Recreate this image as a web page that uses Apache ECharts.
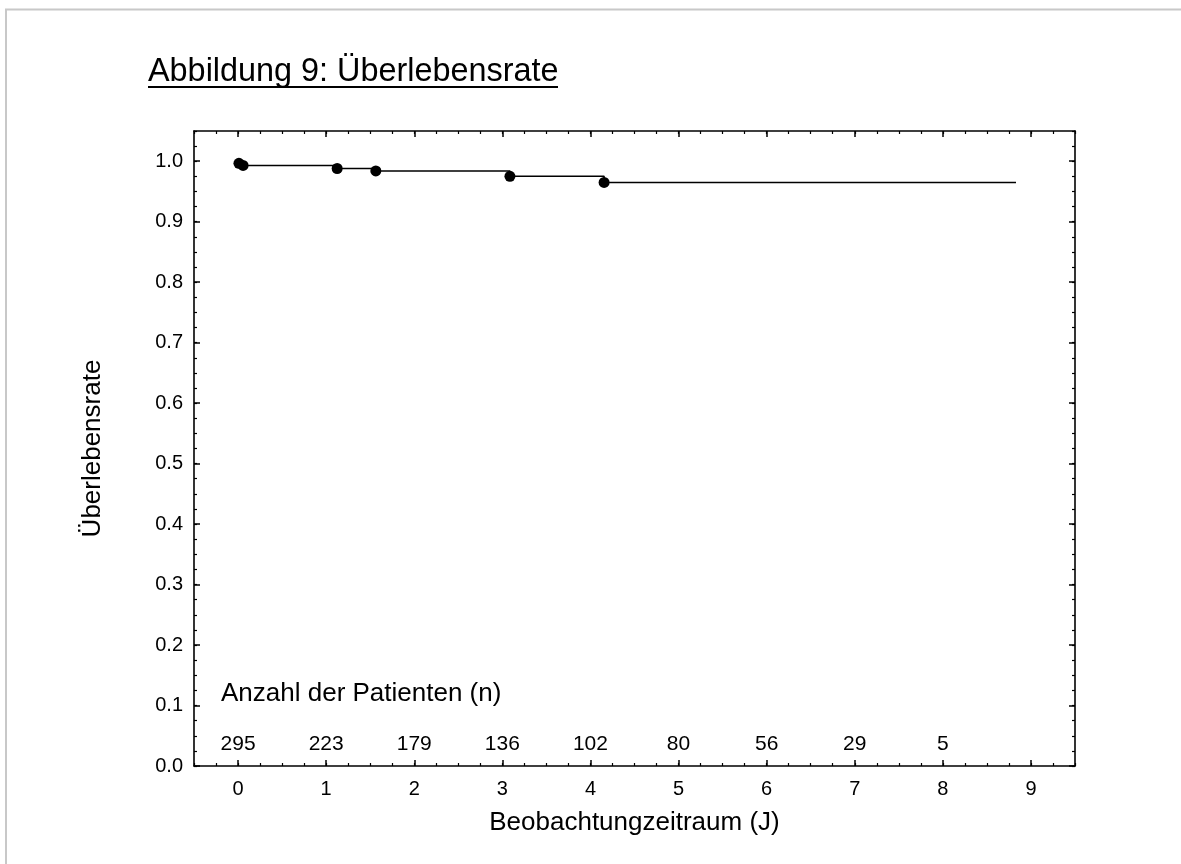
<!DOCTYPE html>
<html><head><meta charset="utf-8">
<script src="https://cdn.jsdelivr.net/npm/echarts@6/dist/echarts.min.js"></script>
<style>html,body{margin:0;padding:0;background:#fff}#c{width:1181px;height:864px}</style>
</head><body><div id="c"></div>
<script>
const xTicks = [0, 1, 2, 3, 4, 5, 6, 7, 8, 9];
const yTicks = [0, 0.1, 0.2, 0.3, 0.4, 0.5, 0.6, 0.7, 0.8, 0.9, 1.0];
const eventTimes = [0.01, 0.057, 1.125, 1.564, 3.086, 4.155];
const survival = [0.9965, 0.993, 0.988, 0.984, 0.975, 0.965];
const lastFollowUp = 8.83;
const atRiskTimes = [0, 1, 2, 3, 4, 5, 6, 7, 8];
const atRiskCounts = [295, 223, 179, 136, 102, 80, 56, 29, 5];
const titleText = 'Abbildung 9: Überlebensrate';
const xName = 'Beobachtungzeitraum (J)';
const yName = 'Überlebensrate';
const atRiskTitle = 'Anzahl der Patienten (n)';

const FF = '"Liberation Sans", Arial, Helvetica, sans-serif';
const BLACK = '#000';
const chart = echarts.init(document.getElementById('c'), null, {renderer: 'canvas'});

const curve = eventTimes.map((t, i) => [t, survival[i]]);
curve.push([lastFollowUp, survival[survival.length - 1]]);
const dots = eventTimes.map((t, i) => [t, survival[i]]);
const atRisk = atRiskTimes.map((t, i) => [t, 0.036, atRiskCounts[i]]);

function majorX(pos, labels) {
  return {
    type: 'value', position: pos, min: -0.5, max: 9.5,
    axisLine: {show: true, onZero: false, lineStyle: {color: BLACK, width: 1.6}},
    axisTick: {show: true, inside: true, length: 6, customValues: xTicks, lineStyle: {color: BLACK, width: 1.5}},
    axisLabel: labels ? {show: true, customValues: xTicks, fontSize: 20, color: BLACK, margin: 13, fontFamily: FF} : {show: false},
    splitLine: {show: false},
    name: labels ? xName : '', nameLocation: 'middle', nameGap: 44,
    nameTextStyle: {fontSize: 26, color: BLACK, fontFamily: FF}
  };
}
function minorX(pos) {
  return {
    type: 'value', position: pos, min: -0.5, max: 9.5, interval: 0.25,
    axisLine: {show: false, onZero: false},
    axisTick: {show: true, inside: true, length: 3, lineStyle: {color: BLACK, width: 1.2}},
    axisLabel: {show: false}, splitLine: {show: false}
  };
}
function majorY(pos, labels) {
  return {
    type: 'value', position: pos, min: 0, max: 1.05,
    axisLine: {show: true, onZero: false, lineStyle: {color: BLACK, width: 1.6}},
    axisTick: {show: true, inside: true, length: 6, customValues: yTicks, lineStyle: {color: BLACK, width: 1.5}},
    axisLabel: labels ? {show: true, customValues: yTicks, formatter: v => Number(v).toFixed(1), fontSize: 20, color: BLACK, margin: 11, fontFamily: FF} : {show: false},
    splitLine: {show: false},
    name: labels ? yName : '', nameLocation: 'middle', nameGap: 88, nameRotate: 90,
    nameTextStyle: {fontSize: 26, color: BLACK, fontFamily: FF}
  };
}
function minorY(pos) {
  return {
    type: 'value', position: pos, min: 0, max: 1.05, interval: 0.025,
    axisLine: {show: false, onZero: false},
    axisTick: {show: true, inside: true, length: 3, lineStyle: {color: BLACK, width: 1.2}},
    axisLabel: {show: false}, splitLine: {show: false}
  };
}

chart.setOption({
  animation: false,
  backgroundColor: '#fff',
  textStyle: {fontFamily: FF},
  grid: {left: 194, top: 131, right: 106, bottom: 98, containLabel: false},
  xAxis: [majorX('bottom', true), minorX('bottom'), majorX('top', false), minorX('top')],
  yAxis: [majorY('left', true), minorY('left'), majorY('right', false), minorY('right')],
  series: [
    {
      type: 'line', step: 'end', data: curve, xAxisIndex: 0, yAxisIndex: 0,
      showSymbol: false, symbol: 'none',
      lineStyle: {color: BLACK, width: 1.5}, silent: true
    },
    {
      type: 'scatter', data: dots, xAxisIndex: 0, yAxisIndex: 0,
      symbol: 'circle', symbolSize: 11, itemStyle: {color: BLACK, opacity: 1}, silent: true
    },
    {
      type: 'scatter', data: atRisk, xAxisIndex: 0, yAxisIndex: 0,
      symbolSize: 0, silent: true, itemStyle: {color: BLACK, opacity: 1},
      label: {show: true, position: 'inside', formatter: p => String(p.value[2]), fontSize: 21, color: BLACK, textBorderWidth: 0, opacity: 1, fontFamily: FF}
    }
  ],
  graphic: [
    {type: 'line', shape: {x1: 5, y1: 9.5, x2: 1181, y2: 9.5}, style: {stroke: '#c8c8c8', lineWidth: 2}},
    {type: 'line', shape: {x1: 6, y1: 9, x2: 6, y2: 864}, style: {stroke: '#c8c8c8', lineWidth: 2}},
    {type: 'text', x: 148, y: 72, style: {text: titleText, font: '32.4px ' + FF, fill: BLACK, textAlign: 'left', textVerticalAlign: 'middle'}},
    {type: 'line', shape: {x1: 148, y1: 87, x2: 558, y2: 87}, style: {stroke: BLACK, lineWidth: 2}},
    {type: 'text', x: 221, y: 694, style: {text: atRiskTitle, font: '26px ' + FF, fill: BLACK, textAlign: 'left', textVerticalAlign: 'middle'}}
  ]
});
</script>
</body></html>
